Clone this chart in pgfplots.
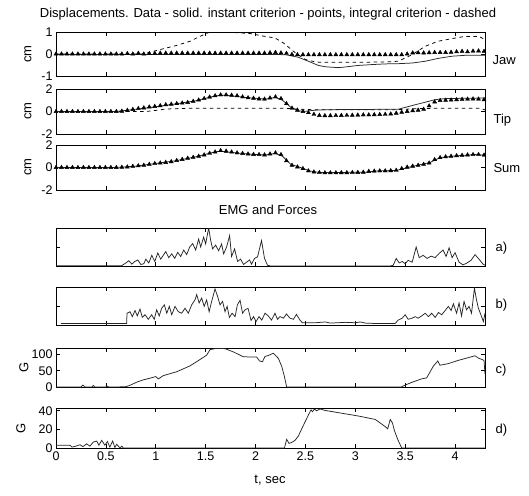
\documentclass[border=0pt]{standalone}
\usepackage{fontspec}
\setmainfont{Liberation Sans}
\usepackage{pgfplots}
\usepackage{pgfplotstable}
\pgfplotsset{compat=1.18}

\pgfplotstableread{
x jaw tip sum
0 0 0 0
0.055 0 0 0
0.11 0 0 0
0.165 0 0 0
0.22 0 0 0
0.275 0 0 0
0.33 0 0 0
0.385 0 0 0
0.44 0 0 0
0.495 0 0 0
0.55 0 0 0
0.605 0 0 0
0.66 0 0.03 0.02
0.715 0.02 0.1 0.05
0.77 0 0.18 0.1
0.825 0.03 0.26 0.15
0.88 0 0.32 0.2
0.935 0.02 0.4 0.28
0.99 0.03 0.45 0.35
1.045 0.04 0.52 0.4
1.1 0.04 0.6 0.45
1.155 0.04 0.65 0.52
1.21 0.04 0.7 0.62
1.265 0.04 0.75 0.72
1.32 0.04 0.8 0.82
1.375 0.04 0.9 0.9
1.43 0.04 1.02 1.0
1.485 0.04 1.15 1.12
1.54 0.04 1.28 1.26
1.595 0.04 1.4 1.38
1.65 0.04 1.48 1.5
1.705 0.04 1.48 1.45
1.76 0.04 1.45 1.38
1.815 0.04 1.4 1.3
1.87 0.04 1.3 1.25
1.925 0.04 1.22 1.2
1.98 0.04 1.18 1.16
2.035 0.04 1.12 1.15
2.09 0.04 1.1 1.12
2.145 0.06 1.2 1.2
2.2 0.07 1.3 1.3
2.255 0.05 1.15 1.15
2.31 0.03 0.7 0.6
2.365 -0.02 0.3 0.2
2.42 -0.03 0.12 0.05
2.475 -0.03 0.0 -0.1
2.53 -0.03 -0.1 -0.3
2.585 -0.03 -0.25 -0.4
2.64 -0.03 -0.35 -0.45
2.695 -0.03 -0.37 -0.47
2.75 -0.03 -0.37 -0.47
2.805 -0.03 -0.36 -0.47
2.86 -0.03 -0.35 -0.46
2.915 -0.03 -0.34 -0.46
2.97 -0.03 -0.33 -0.45
3.025 -0.03 -0.32 -0.44
3.08 -0.03 -0.3 -0.42
3.135 -0.03 -0.3 -0.35
3.19 -0.03 -0.28 -0.32
3.245 -0.03 -0.27 -0.3
3.3 -0.03 -0.25 -0.3
3.355 -0.03 -0.22 -0.28
3.41 -0.03 -0.15 -0.25
3.465 -0.03 -0.07 -0.1
3.52 0 0.0 0.03
3.575 0.05 0.07 0.12
3.63 0.06 0.12 0.2
3.685 0.05 0.2 0.28
3.74 0.06 0.5 0.4
3.795 0.07 0.85 0.7
3.85 0.07 0.98 0.88
3.905 0.07 1.0 0.95
3.96 0.08 1.02 1.0
4.015 0.1 1.05 1.05
4.07 0.12 1.08 1.08
4.125 0.1 1.1 1.12
4.18 0.13 1.12 1.15
4.235 0.14 1.1 1.15
4.29 0.12 1.05 1.1
}\marks

\begin{document}
\begin{tikzpicture}
\path[use as bounding box] (0pt,0pt) rectangle (529pt,-495pt);
\pgfplotsset{
  panel/.style={
    scale only axis, width=429pt, anchor=north west,
    xmin=0, xmax=4.3,
    xtick={0,0.5,1,1.5,2,2.5,3,3.5,4}, xticklabels={},
    tick pos=both, tick align=inside,
    major tick length=4pt,
    axis line style={line width=0.6pt},
    every tick/.append style={line width=0.6pt, black},
    tick label style={font=\fontsize{12.5}{12.5}\selectfont},
  },
  dat/.style={black!85, line width=0.75pt},
  intg/.style={black, line width=0.75pt, dash pattern=on 3.5pt off 3.5pt},
  inst/.style={only marks, mark=triangle*, mark size=2.3pt, black},
}
\def\lab{\fontsize{13}{13}\selectfont}

\node[font=\lab] at (268pt,-14pt) {Displacements. Data - solid. instant criterion - points, integral criterion - dashed};
\node[font=\lab] at (268pt,-210pt) {EMG and Forces};
\node[font=\lab] at (270pt,-480pt) {t, sec};

% Jaw
\begin{axis}[panel, at={(56pt,-32pt)}, height=44pt, ymin=-1, ymax=1, ytick={-1,0,1}, yticklabels={-1,0,1}]
\addplot[intg] coordinates {(0,0) (0.875,0) (1.042,0.2) (1.21,0.39) (1.343,0.58) (1.443,0.8) (1.527,0.97) (1.677,1.0) (1.81,0.97) (1.945,0.93) (2.095,0.8) (2.195,0.73) (2.28,0.5) (2.4,0.05) (2.5,-0.25) (2.6,-0.36) (2.66,-0.38) (3.0,-0.38) (3.3,-0.36) (3.43,-0.33) (3.57,-0.03) (3.7,0.35) (3.83,0.58) (3.97,0.7) (4.1,0.8) (4.24,0.8) (4.3,0.65)};
\addplot[dat] coordinates {(0,-0.02) (1.0,-0.02) (2.0,-0.02) (2.3,-0.03) (2.43,-0.15) (2.53,-0.33) (2.63,-0.52) (2.7,-0.58) (2.76,-0.6) (2.83,-0.62) (2.9,-0.59) (2.97,-0.55) (3.03,-0.52) (3.1,-0.5) (3.17,-0.48) (3.3,-0.45) (3.43,-0.44) (3.57,-0.41) (3.7,-0.33) (3.83,-0.2) (3.97,-0.1) (4.1,-0.06) (4.3,-0.06)};
\addplot[inst] table[x=x,y=jaw]{\marks};
\end{axis}
\node[font=\lab, anchor=west] at (489pt,-60pt) {Jaw};
\node[font=\lab, rotate=90] at (28pt,-54pt) {cm};

% Tip
\begin{axis}[panel, at={(56pt,-89pt)}, height=45pt, ymin=-2, ymax=2, ytick={-2,0,2}, yticklabels={-2,0,2}]
\addplot[intg] coordinates {(0,0) (0.9,0) (1.0,0.1) (1.1,0.22) (1.3,0.28) (2.3,0.28) (2.45,0.2) (2.6,0.15) (3.4,0.15) (3.6,0.25) (3.8,0.28) (4.25,0.28) (4.3,0.15)};
\addplot[dat] coordinates {(0,0) (0.6,0) (0.8,0.2) (1.0,0.42) (1.2,0.68) (1.4,0.95) (1.6,1.4) (1.7,1.45) (1.9,1.25) (2.1,1.1) (2.2,1.25) (2.27,1.0) (2.35,0.4) (2.43,0.05) (2.5,0.02) (2.6,0.12) (2.7,0.16) (3.0,0.18) (3.43,0.2) (3.6,0.6) (3.8,1.05) (3.9,1.15) (4.3,1.2)};
\addplot[inst] table[x=x,y=tip]{\marks};
\end{axis}
\node[font=\lab, anchor=west] at (490pt,-120pt) {Tip};
\node[font=\lab, rotate=90] at (28pt,-111pt) {cm};

% Sum
\begin{axis}[panel, at={(56pt,-145pt)}, height=45pt, ymin=-2, ymax=2, ytick={-2,0,2}, yticklabels={-2,0,2}]
\addplot[dat] coordinates {(0,0) (0.6,0) (0.8,0.12) (1.0,0.36) (1.2,0.6) (1.4,0.95) (1.6,1.4) (1.65,1.45) (1.8,1.3) (2.0,1.15) (2.1,1.12) (2.2,1.25) (2.27,1.0) (2.35,0.3) (2.45,0.0) (2.55,-0.32) (2.65,-0.45) (3.1,-0.42) (3.2,-0.32) (3.42,-0.25) (3.55,0.05) (3.75,0.45) (3.85,0.88) (4.0,1.03) (4.2,1.15) (4.3,1.1)};
\addplot[inst] table[x=x,y=sum]{\marks};
\end{axis}
\node[font=\lab, anchor=west] at (490pt,-168pt) {Sum};
\node[font=\lab, rotate=90] at (28pt,-167pt) {cm};

% a
\begin{axis}[panel, at={(56pt,-228pt)}, height=38pt, ymin=0, ymax=1, ytick={0.5}, yticklabels={}]
\addplot[dat] coordinates {(0,0.01) (0.2,0.01) (0.4,0.01) (0.6,0.01) (0.66,0.01) (0.70,0.08) (0.73,0.14) (0.76,0.05) (0.79,0.12) (0.82,0.16) (0.85,0.04) (0.88,0.06) (0.90,0.18) (0.93,0.08) (0.96,0.28) (0.99,0.12) (1.02,0.34) (1.05,0.18) (1.08,0.30) (1.10,0.38) (1.13,0.22) (1.16,0.32) (1.19,0.20) (1.22,0.36) (1.25,0.25) (1.28,0.42) (1.31,0.30) (1.34,0.50) (1.37,0.59) (1.40,0.42) (1.43,0.71) (1.45,0.50) (1.48,0.76) (1.50,0.58) (1.53,1.0) (1.55,0.68) (1.57,0.45) (1.60,0.55) (1.63,0.40) (1.66,0.58) (1.68,0.32) (1.71,0.50) (1.74,0.80) (1.76,0.25) (1.79,0.45) (1.82,0.12) (1.85,0.18) (1.88,0.04) (1.91,0.10) (1.94,0.16) (1.96,0.05) (1.99,0.20) (2.02,0.24) (2.06,0.67) (2.09,0.20) (2.12,0.02) (2.15,0.0) (3.35,0.0) (3.38,0.02) (3.41,0.2) (3.44,0.08) (3.47,0.12) (3.50,0.06) (3.53,0.15) (3.57,0.10) (3.61,0.50) (3.64,0.22) (3.68,0.28) (3.72,0.20) (3.76,0.26) (3.80,0.22) (3.84,0.33) (3.88,0.42) (3.91,0.25) (3.94,0.48) (3.97,0.22) (4.00,0.35) (4.04,0.10) (4.08,0.03) (4.12,0.08) (4.16,0.15) (4.20,0.30) (4.24,0.18) (4.28,0.05) (4.30,0.02)};
\end{axis}
\node[font=\lab, anchor=west] at (492pt,-248pt) {a)};

% b
\begin{axis}[panel, at={(56pt,-287pt)}, height=38pt, ymin=0, ymax=1, ytick={0.5}, yticklabels={}]
\addplot[dat] coordinates {(0.05,0.04) (0.708,0.04) (0.712,0.31) (0.742,0.35) (0.765,0.22) (0.792,0.38) (0.815,0.24) (0.842,0.42) (0.865,0.2) (0.892,0.27) (0.925,0.15) (0.959,0.27) (0.985,0.15) (1.009,0.4) (1.035,0.24) (1.059,0.44) (1.086,0.53) (1.11,0.31) (1.136,0.49) (1.16,0.27) (1.193,0.49) (1.226,0.35) (1.26,0.31) (1.293,0.44) (1.326,0.31) (1.36,0.53) (1.393,0.66) (1.41,0.8) (1.435,0.58) (1.46,0.71) (1.485,0.49) (1.51,0.66) (1.535,0.35) (1.56,0.62) (1.594,0.95) (1.62,0.75) (1.644,0.53) (1.67,0.62) (1.694,0.35) (1.715,0.49) (1.738,0.2) (1.765,0.31) (1.795,0.22) (1.818,0.53) (1.845,0.65) (1.87,0.31) (1.895,0.4) (1.925,0.44) (1.955,0.12) (1.98,0.22) (2.005,0.09) (2.035,0.22) (2.062,0.13) (2.095,0.31) (2.128,0.24) (2.16,0.13) (2.195,0.31) (2.22,0.15) (2.245,0.22) (2.28,0.18) (2.31,0.29) (2.345,0.18) (2.38,0.15) (2.41,0.28) (2.445,0.13) (2.47,0.06) (2.6,0.06) (2.7,0.08) (2.75,0.05) (2.9,0.07) (3.0,0.06) (3.05,0.08) (3.1,0.05) (3.2,0.04) (3.4,0.04) (3.43,0.13) (3.47,0.18) (3.5,0.27) (3.53,0.15) (3.57,0.18) (3.6,0.22) (3.63,0.18) (3.666,0.24) (3.7,0.31) (3.733,0.22) (3.766,0.31) (3.8,0.2) (3.833,0.33) (3.866,0.27) (3.9,0.38) (3.933,0.49) (3.96,0.38) (3.983,0.56) (4.015,0.31) (4.04,0.58) (4.065,0.24) (4.09,0.62) (4.115,0.4) (4.14,0.49) (4.165,0.31) (4.194,0.97) (4.215,0.66) (4.234,0.44) (4.26,0.26) (4.284,0.09) (4.3,0.31)};
\end{axis}
\node[font=\lab, anchor=west] at (492pt,-305pt) {b)};

% c
\begin{axis}[panel, at={(56pt,-348pt)}, height=39pt, ymin=0, ymax=120, ytick={0,50,100}, yticklabels={0,50,100}]
\addplot[dat] coordinates {(0,0) (0.25,0) (0.27,6) (0.29,0) (0.36,0) (0.374,5) (0.39,0) (0.5,0) (0.51,3) (0.53,0) (0.6,0) (0.7,1) (0.74,5) (0.81,15) (0.875,22) (0.94,27) (1.0,32) (1.026,25) (1.076,35) (1.21,47) (1.343,65) (1.41,78) (1.51,98) (1.544,115) (1.61,119) (1.694,118) (1.778,108) (1.878,93) (2.012,92) (2.04,80) (2.07,78) (2.095,94) (2.128,97) (2.179,104) (2.229,88) (2.262,64) (2.289,33) (2.312,0) (3.46,0) (3.5,6) (3.564,14) (3.664,25) (3.715,28) (3.782,64) (3.826,80) (3.849,67) (3.933,72) (4.033,82) (4.2,96) (4.234,89) (4.29,82) (4.3,40)};
\end{axis}
\node[font=\lab, anchor=west] at (492pt,-370pt) {c)};
\node[font=\lab, rotate=90] at (24pt,-367pt) {G};

% d
\begin{axis}[panel, at={(56pt,-408pt)}, height=40pt, ymin=0, ymax=43, ytick={0,20,40}, yticklabels={0,20,40},
  xticklabels={0,0.5,1,1.5,2,2.5,3,3.5,4}]
\addplot[dat] coordinates {(0,3) (0.14,3) (0.16,1) (0.2,2) (0.24,3.5) (0.27,1.5) (0.307,4.5) (0.34,2) (0.374,6.4) (0.408,7.5) (0.43,3) (0.458,8.2) (0.49,3) (0.515,7) (0.54,1) (0.568,7.5) (0.59,0.5) (0.608,4) (0.642,0) (0.66,2) (0.675,0) (2.29,0) (2.312,9.3) (2.336,5) (2.363,6) (2.396,8.2) (2.43,13) (2.463,20.6) (2.496,28) (2.53,35.5) (2.556,41) (2.57,39) (2.59,42) (2.61,40) (2.647,42) (2.697,40.4) (2.864,37.4) (3.03,34.4) (3.2,30.7) (3.3,23) (3.325,20.6) (3.35,30.7) (3.372,27) (3.392,18.7) (3.425,9.3) (3.465,0) (4.3,0)};
\end{axis}
\node[font=\lab, anchor=west] at (492pt,-430pt) {d)};
\node[font=\lab, rotate=90] at (21pt,-428pt) {G};
\end{tikzpicture}
\end{document}
